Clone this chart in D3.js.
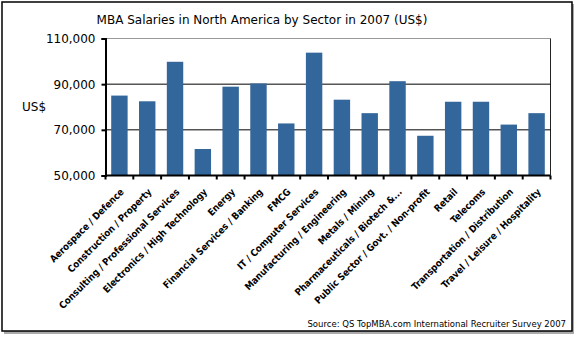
<!DOCTYPE html>
<html>
<head>
<meta charset="utf-8">
<script src="https://cdn.jsdelivr.net/npm/d3@7"></script>
<style>
  body { margin: 0; background: #fff; }
  svg { display: block; }
</style>
</head>
<body>
<div id="chart"></div>
<script>
const sectors = [
  "Aerospace / Defence", "Construction / Property", "Consulting / Professional Services",
  "Electronics / High Technology", "Energy", "Financial Services / Banking", "FMCG",
  "IT / Computer Services", "Manufacturing / Engineering", "Metals / Mining",
  "Pharmaceuticals / Biotech &...", "Public Sector / Govt. / Non-profit", "Retail",
  "Telecoms", "Transportation / Distribution", "Travel / Leisure / Hospitality"
];
const salaries = [85000, 82500, 99800, 61600, 88900, 90300, 72800, 103800, 83200, 77300,
  91300, 67400, 82300, 82300, 72300, 77300];
const yTicks = [50000, 70000, 90000, 110000];

const barColor = "#33669a";
const width = 577, height = 337;
const plot = { left: 105.5, right: 550.5, top: 38.5, bottom: 175.5 };

const svg = d3.select("#chart").append("svg")
  .attr("width", width)
  .attr("height", height);

// outer frame with a little shadow
svg.append("rect")
  .attr("x", 4).attr("y", 4).attr("width", 570).attr("height", 330)
  .attr("fill", "#aaa");
svg.append("rect")
  .attr("x", 2).attr("y", 2).attr("width", 570).attr("height", 329)
  .attr("fill", "#fff").attr("stroke", "#000").attr("stroke-width", 1.5);

const x = d3.scaleBand()
  .domain(sectors)
  .range([plot.left, plot.right])
  .paddingInner(0.41)
  .paddingOuter(0.205);

const y = d3.scaleLinear()
  .domain([50000, 110000])
  .range([plot.bottom, plot.top]);

svg.append("text")
  .attr("x", 262).attr("y", 24)
  .attr("text-anchor", "middle")
  .attr("font-family", "DejaVu Sans, sans-serif")
  .attr("font-size", 12)
  .attr("fill", "#000")
  .text("MBA Salaries in North America by Sector in 2007 (US$)");

// plot border: gray top, dark right
svg.append("line")
  .attr("x1", plot.left).attr("x2", plot.right)
  .attr("y1", plot.top).attr("y2", plot.top)
  .attr("stroke", "#999").attr("stroke-width", 1);
svg.append("line")
  .attr("x1", plot.right).attr("x2", plot.right)
  .attr("y1", plot.top).attr("y2", plot.bottom)
  .attr("stroke", "#222").attr("stroke-width", 1);

// gridlines
svg.append("g")
  .selectAll("line")
  .data(yTicks.filter(d => d > 50000 && d < 110000))
  .join("line")
  .attr("x1", plot.left).attr("x2", plot.right)
  .attr("y1", d => y(d)).attr("y2", d => y(d))
  .attr("stroke", "#000").attr("stroke-width", 1);

// bars
svg.append("g")
  .selectAll("rect")
  .data(salaries)
  .join("rect")
  .attr("x", (d, i) => x(sectors[i]))
  .attr("y", d => y(d))
  .attr("width", x.bandwidth())
  .attr("height", d => y(50000) - y(d))
  .attr("fill", barColor);

// y axis
const yAxis = svg.append("g")
  .attr("transform", `translate(${plot.left},0)`)
  .call(d3.axisLeft(y).tickValues(yTicks).tickSize(4).tickPadding(6)
    .tickFormat(d3.format(",")));
yAxis.select(".domain").attr("stroke", "#000").attr("stroke-width", 2);
yAxis.selectAll(".tick line").attr("stroke", "#000").attr("stroke-width", 2);
yAxis.selectAll(".tick text")
  .attr("font-family", "DejaVu Sans, sans-serif")
  .attr("font-size", 12)
  .attr("fill", "#000");

svg.append("text")
  .attr("x", 22).attr("y", 111)
  .attr("font-family", "DejaVu Sans, sans-serif")
  .attr("font-size", 12)
  .text("US$");

// x axis: ticks at the category boundaries
const step = x.step();
const xAxis = svg.append("g")
  .attr("transform", `translate(0,${plot.bottom})`);
xAxis.append("line")
  .attr("x1", plot.left).attr("x2", plot.right)
  .attr("stroke", "#000").attr("stroke-width", 2);
xAxis.selectAll(".bound")
  .data(d3.range(sectors.length + 1))
  .join("line")
  .attr("class", "bound")
  .attr("x1", i => plot.left + i * step).attr("x2", i => plot.left + i * step)
  .attr("y1", 0).attr("y2", 4)
  .attr("stroke", "#000").attr("stroke-width", 2);

xAxis.selectAll(".label")
  .data(sectors)
  .join("text")
  .attr("class", "label")
  .attr("transform", d => `translate(${x(d) + x.bandwidth() / 2 + 5},${17}) rotate(-45)`)
  .attr("text-anchor", "end")
  .attr("font-family", "DejaVu Sans Condensed, DejaVu Sans, sans-serif")
  .attr("font-weight", "bold")
  .attr("font-size", 9.6)
  .text(d => d);

svg.append("text")
  .attr("x", 566).attr("y", 327)
  .attr("text-anchor", "end")
  .attr("font-family", "DejaVu Sans, sans-serif")
  .attr("font-size", 8.5)
  .text("Source: QS TopMBA.com International Recruiter Survey 2007");
</script>
</body>
</html>
